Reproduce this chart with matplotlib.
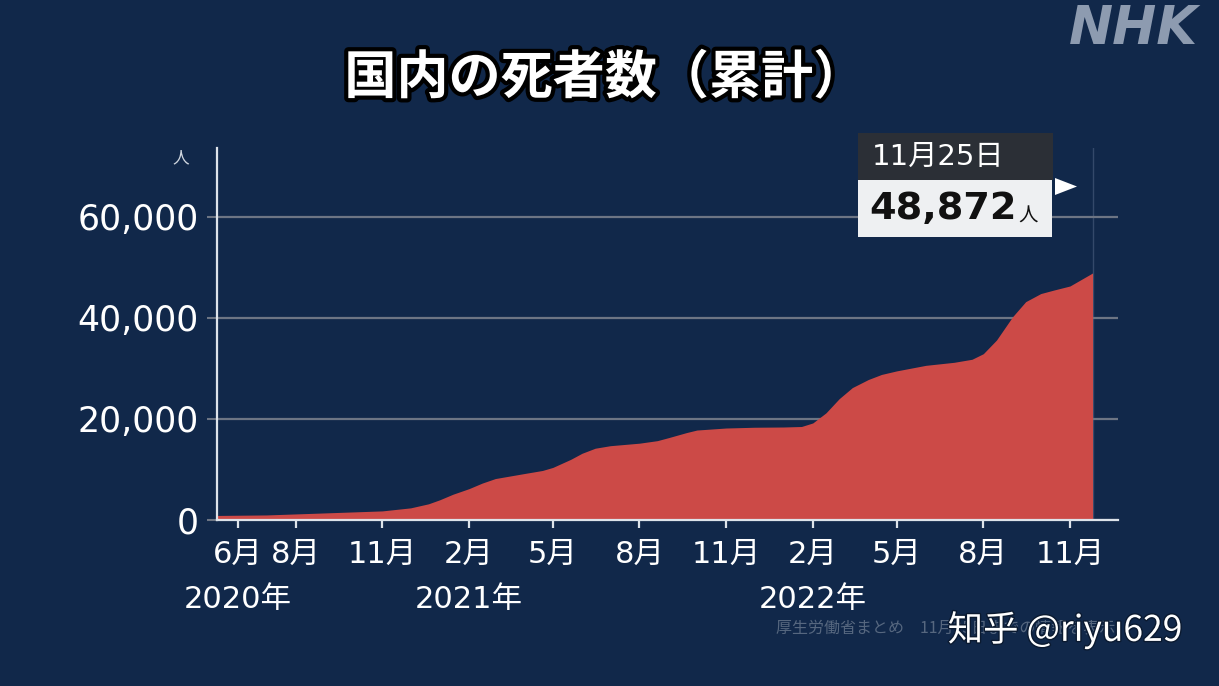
import datetime as dt
import matplotlib
matplotlib.use("Agg")
import matplotlib.pyplot as plt
import matplotlib.patheffects as pe
from matplotlib.patches import Rectangle, Polygon

# ---------------- data ----------------
dates = [
    "2020-05-10", "2020-07-01", "2020-09-01", "2020-11-01", "2020-12-01",
    "2020-12-20", "2021-01-01", "2021-01-15", "2021-02-01", "2021-02-15",
    "2021-03-01", "2021-04-01", "2021-04-20", "2021-05-01", "2021-05-20",
    "2021-06-01", "2021-06-15", "2021-07-01", "2021-08-01", "2021-08-20",
    "2021-09-01", "2021-09-20", "2021-10-01", "2021-11-01", "2021-12-01",
    "2022-01-01", "2022-01-20", "2022-02-01", "2022-02-15", "2022-03-01",
    "2022-03-15", "2022-04-01", "2022-04-15", "2022-05-01", "2022-06-01",
    "2022-07-01", "2022-07-20", "2022-08-01", "2022-08-15", "2022-09-01",
    "2022-09-15", "2022-10-01", "2022-10-15", "2022-11-01", "2022-11-25",
]
deaths = [
    900, 1000, 1400, 1800, 2400,
    3200, 4000, 5100, 6200, 7300,
    8200, 9200, 9800, 10400, 12000,
    13200, 14200, 14700, 15200, 15700,
    16300, 17300, 17800, 18200, 18350,
    18400, 18500, 19200, 21200, 24000,
    26200, 27800, 28800, 29500, 30600,
    31200, 31800, 32900, 35600, 40200,
    43200, 44800, 45500, 46300, 48872,
]
tick_dates = ["2020-06-01", "2020-08-01", "2020-11-01", "2021-02-01", "2021-05-01",
              "2021-08-01", "2021-11-01", "2022-02-01", "2022-05-01", "2022-08-01",
              "2022-11-01"]
tick_labels = ["6月", "8月", "11月", "2月", "5月", "8月", "11月",
               "2月", "5月", "8月", "11月"]
year_dates = ["2020-06-01", "2021-02-01", "2022-02-01"]
year_labels = ["2020年", "2021年", "2022年"]
y_ticks = [0, 20000, 40000, 60000]
title = "国内の死者数（累計）"
last_date_label = "11月25日"
last_value = 48872
source = "厚生労働省まとめ　11月25日までの情報を表示"

# ---------------- style ----------------
BG = "#11284a"
RED = "#cc4a47"
GRID = "#6d7584"
AXIS = "#dde3ea"
MIX = ["DejaVu Sans", "Noto Sans CJK JP"]
JP = ["Noto Sans CJK JP", "DejaVu Sans"]
plt.rcParams["font.family"] = MIX

to_d = lambda s: dt.datetime.strptime(s, "%Y-%m-%d")
x = [to_d(s) for s in dates]
xt = [to_d(s) for s in tick_dates]
xy = [to_d(s) for s in year_dates]

W, H = 1219, 686
fig = plt.figure(figsize=(W / 100, H / 100), dpi=100, facecolor=BG)

def fx(px):
    return px / W

def fy(py):
    return 1 - py / H

ax = fig.add_axes([fx(216.5), fy(520), fx(1118) - fx(216.5), fy(148) - fy(520)])
ax.set_facecolor(BG)

ax.axvline(x[-1], color="#34496a", lw=1.0, zorder=0.5)
ax.fill_between(x, deaths, 0, color=RED, lw=0, zorder=2)

ax.set_xlim(dt.datetime(2020, 5, 9), dt.datetime(2022, 12, 22))
ax.set_ylim(0, 73600)

ax.set_yticks(y_ticks)
ax.set_yticklabels([f"{v:,}" for v in y_ticks])
ax.xaxis.remove_overlapping_locs = False
ax.set_xticks(xt)
ax.set_xticklabels(tick_labels)
ax.set_xticks(xy, minor=True)
ax.set_xticklabels(year_labels, minor=True)

ax.set_axisbelow(True)
ax.yaxis.grid(True, color=GRID, lw=1.6)
ax.xaxis.grid(False)

for s in ["top", "right"]:
    ax.spines[s].set_visible(False)
for s in ["left", "bottom"]:
    ax.spines[s].set_color(AXIS)
    ax.spines[s].set_linewidth(1.6)
    ax.spines[s].set_zorder(3)

ax.tick_params(axis="y", which="both", colors=GRID, length=7, width=1.5, pad=6,
               labelcolor="white", labelsize=25)
ax.tick_params(axis="x", which="major", colors=AXIS, length=6, width=1.6, pad=8,
               labelcolor="white", labelsize=22)
ax.tick_params(axis="x", which="minor", length=0, pad=47,
               labelcolor="white", labelsize=22)

# unit label
fig.text(fx(181), fy(158), "人", color="#cfd6df", fontsize=12, family=JP,
         ha="center", va="center")

# title
fig.text(fx(605), fy(78), title, color="white", fontsize=37.5, fontweight="bold",
         family=JP, ha="center", va="center",
         path_effects=[pe.withStroke(linewidth=6, foreground="black")])

# NHK logo
fig.text(fx(1133), fy(29), "NHK", color="#8d9bb0", fontsize=38, fontweight="bold",
         style="italic", family="DejaVu Sans", ha="center", va="center")

# annotation box
fig.patches.append(Rectangle((fx(858), fy(180)), fx(1053) - fx(858), fy(133) - fy(180),
                             transform=fig.transFigure, facecolor="#2b2f36",
                             edgecolor="none", zorder=5))
fig.patches.append(Rectangle((fx(858), fy(237)), fx(1052) - fx(858), fy(180) - fy(237),
                             transform=fig.transFigure, facecolor="#eef0f2",
                             edgecolor="none", zorder=5))
fig.patches.append(Polygon([(fx(1055), fy(178)), (fx(1077), fy(186.5)), (fx(1055), fy(195))],
                           closed=True, transform=fig.transFigure, facecolor="white",
                           edgecolor="none", zorder=5))
fig.text(fx(872), fy(157), last_date_label, color="white", fontsize=21,
         ha="left", va="center", zorder=6)
num = fig.text(fx(869), fy(209), f"{last_value:,}", color="#111111", fontsize=27.5,
               fontweight="bold", family="DejaVu Sans", ha="left", va="center", zorder=6)
fig.canvas.draw()
bb = num.get_window_extent()
fig.text((bb.x1 + 2) / W, fy(216), "人", color="#111111", fontsize=14, family=JP,
         ha="left", va="center", zorder=6)

# source + watermark (the watermark covers the end of the source line, as in the original)
fig.text(fx(776), fy(628), source, color="#56677f", fontsize=11.5, family=JP,
         ha="left", va="center")
fig.text(fx(1065), fy(630), "知乎 @riyu629", color="white", fontsize=25.5,
         family=["Noto Sans CJK SC", "DejaVu Sans"], ha="center", va="center",
         path_effects=[pe.withStroke(linewidth=2, foreground="#0b1a30")])

fig.savefig("out.png", dpi=100, facecolor=BG)
